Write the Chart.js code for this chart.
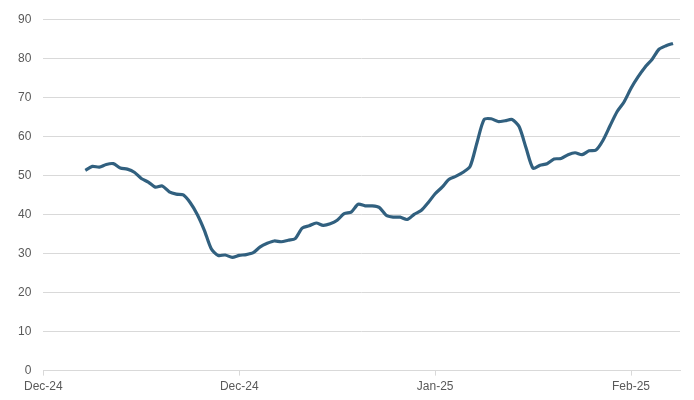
<!DOCTYPE html>
<html>
<head>
<meta charset="utf-8">
<script src="https://cdn.jsdelivr.net/npm/chart.js@4.4.1/dist/chart.umd.min.js"></script>
<style>
    html, body { margin: 0; padding: 0; background: #fff; }
    #wrap { width: 694px; height: 400px; }
</style>
</head>
<body>
<div id="wrap"><canvas id="chart" width="694" height="400"></canvas></div>
<script>
// day index of first point (one per day)
const startDay = 6;
const values = [
    51.3, 52.3, 52.1, 52.8, 53.0, 51.9, 51.6, 50.8, 49.2, 48.3,
    47.0, 47.3, 45.8, 45.2, 45.0, 43.0, 40.0, 36.0, 31.2, 29.5,
    29.6, 29.0, 29.5, 29.7, 30.2, 31.7, 32.6, 33.2, 33.0, 33.4,
    33.8, 36.5, 37.1, 37.8, 37.2, 37.6, 38.5, 40.2, 40.6, 42.6,
    42.2, 42.2, 41.8, 39.8, 39.3, 39.3, 38.7, 40.0, 41.0, 43.0,
    45.3, 47.0, 49.0, 49.8, 50.8, 52.3, 58.5, 64.3, 64.5, 63.8,
    64.0, 64.3, 62.5, 57.0, 51.8, 52.6, 53.0, 54.2, 54.3, 55.3,
    55.8, 55.3, 56.3, 56.5, 59.0, 62.7, 66.3, 68.8, 72.3, 75.2,
    77.7, 79.7, 82.3, 83.2, 83.8
];
const tickDays = [0, 28, 56, 84];
const tickLabels = ["Dec-24", "Dec-24", "Jan-25", "Feb-25"];

const points = values.map((v, i) => ({ x: startDay + i, y: v }));

const font = { family: "'Liberation Sans', Arial, sans-serif", size: 12 };

new Chart(document.getElementById("chart"), {
    type: "line",
    data: {
        datasets: [{
            data: points,
            borderColor: "#31607f",
            borderWidth: 3.2,
            pointRadius: 0,
            tension: 0.25,
            fill: false
        }]
    },
    options: {
        responsive: false,
        animation: false,
        layout: { padding: { left: 6, right: 14, top: 18, bottom: 2 } },
        plugins: { legend: { display: false }, tooltip: { enabled: false } },
        scales: {
            x: {
                type: "linear",
                min: 0,
                max: 91,
                afterBuildTicks: axis => {
                    axis.ticks = tickDays.map(v => ({ value: v }));
                },
                ticks: {
                    font,
                    color: "#595959",
                    maxRotation: 0,
                    padding: 4,
                    callback: (v) => tickLabels[tickDays.indexOf(v)]
                },
                grid: { drawOnChartArea: false, color: "#d9d9d9", tickLength: 5 },
                border: { color: "#d9d9d9" }
            },
            y: {
                min: 0,
                max: 90,
                ticks: { stepSize: 10, font, color: "#595959", padding: 12 },
                grid: { color: "#d9d9d9", drawTicks: false },
                border: { display: false }
            }
        }
    }
});
</script>
</body>
</html>
